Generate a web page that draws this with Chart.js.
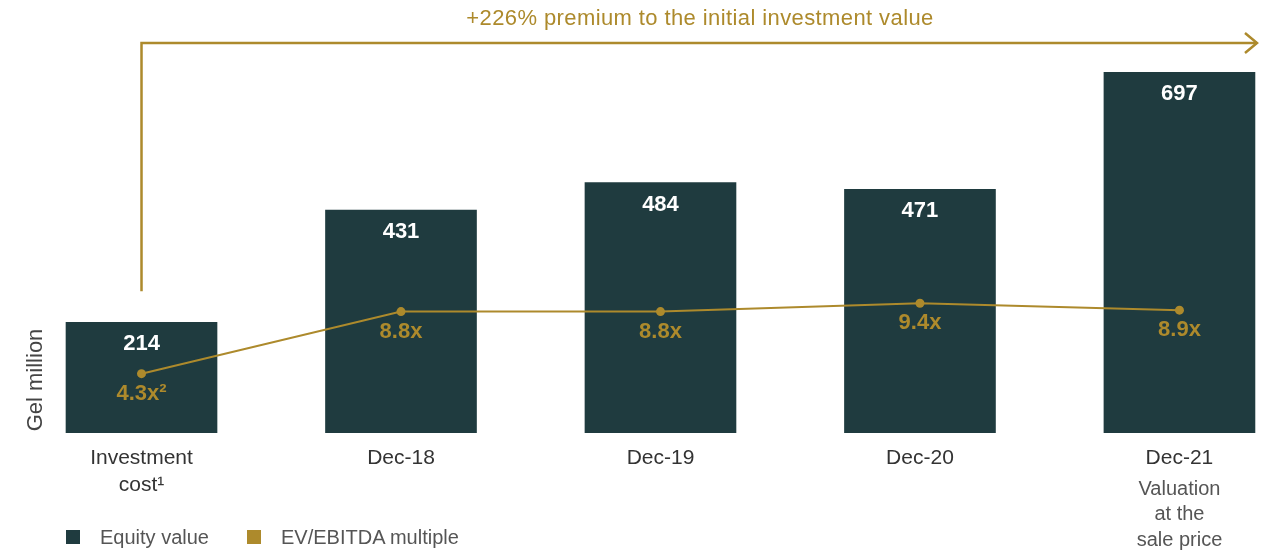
<!doctype html>
<html lang="en">
<head>
  <meta charset="utf-8">
  <title>Equity value and EV/EBITDA multiple</title>
  <style>
    * {
      margin: 0;
      padding: 0;
    }

    body {
      background: #fff;
      font-family: "Liberation Sans", Arial, sans-serif;
    }

    .chart-container {
      position: absolute;
      left: 0;
      top: 0;
      width: 1281px;
      height: 554px;
    }

    .legend-item {
      position: absolute;
      top: 525px;
      font-size: 20px;
      line-height: 24px;
      color: #555;
    }

    .legend-item .box {
      position: absolute;
      left: 0;
      top: 5px;
      width: 14px;
      height: 14px;
    }

    .legend-item span {
      position: absolute;
      left: 34px;
      white-space: nowrap;
    }
  </style>
</head>
<body>
  <div class="chart-container">
    <canvas id="myChart"></canvas>
  </div>
  <div class="legend-item" style="left:66px">
    <div class="box" style="background:#1f3b3f"></div><span>Equity value</span>
  </div>
  <div class="legend-item" style="left:247px">
    <div class="box" style="background:#ad8a2c"></div><span>EV/EBITDA multiple</span>
  </div>

  <script src="https://cdn.jsdelivr.net/npm/chart.js"></script>
  <script>
    const categories = [['Investment', 'cost\u00b9'], 'Dec-18', 'Dec-19', 'Dec-20', 'Dec-21'];
    const equityValue = [214, 431, 484, 471, 697];
    const evEbitda = [4.3, 8.8, 8.8, 9.4, 8.9];
    const multipleLabels = ['4.3x\u00b2', '8.8x', '8.8x', '9.4x', '8.9x'];
    const lastNote = ['Valuation', 'at the', 'sale price'];
    const premiumText = '+226% premium to the initial investment value';
    const axisTitle = 'Gel million';

    const navy = '#1f3b3f';
    const gold = '#ad8a2c';
    const fontFamily = '"Liberation Sans", Arial, sans-serif';

    // labels, arrow and notes drawn on top of the chart
    const overlay = {
      id: 'overlay',
      afterDatasetsDraw(chart) {
        const ctx = chart.ctx;
        const bars = chart.getDatasetMeta(1).data;
        const points = chart.getDatasetMeta(0).data;
        ctx.save();
        ctx.textAlign = 'center';
        ctx.textBaseline = 'middle';

        ctx.font = 'bold 22px ' + fontFamily;
        ctx.fillStyle = '#fff';
        bars.forEach((b, i) => ctx.fillText(equityValue[i], b.x, b.y + 22));

        ctx.fillStyle = gold;
        points.forEach((p, i) => ctx.fillText(multipleLabels[i], p.x, p.y + 20));

        // premium arrow
        const x0 = bars[0].x;
        const yStart = bars[0].y - 31;
        const yTop = 43;
        const xEnd = 1257;
        ctx.strokeStyle = gold;
        ctx.lineWidth = 2.5;
        ctx.beginPath();
        ctx.moveTo(x0, yStart);
        ctx.lineTo(x0, yTop);
        ctx.lineTo(xEnd, yTop);
        ctx.stroke();
        ctx.beginPath();
        ctx.moveTo(xEnd - 12, yTop - 10);
        ctx.lineTo(xEnd, yTop);
        ctx.lineTo(xEnd - 12, yTop + 10);
        ctx.stroke();

        ctx.font = '22px ' + fontFamily;
        ctx.letterSpacing = '0.4px';
        ctx.fillText(premiumText, 700, 19);
        ctx.letterSpacing = '0px';

        // note under the last category
        ctx.fillStyle = '#555';
        ctx.font = '20px ' + fontFamily;
        const lastX = bars[bars.length - 1].x;
        lastNote.forEach((t, i) => ctx.fillText(t, lastX, 489 + i * 25.5));

        // y axis title
        ctx.fillStyle = '#444';
        ctx.font = '22px ' + fontFamily;
        ctx.translate(36, 380);
        ctx.rotate(-Math.PI / 2);
        ctx.fillText(axisTitle, 0, 0);
        ctx.restore();
      }
    };

    const data = {
      datasets: [{
        type: 'line',
        label: 'EV/EBITDA multiple',
        data: evEbitda.map((v, i) => ({ x: i, y: v })),
        yAxisID: 'y1',
        borderColor: gold,
        backgroundColor: gold,
        borderWidth: 2,
        pointRadius: 4.5,
        pointBackgroundColor: gold,
        pointBorderWidth: 0,
        order: 1
      }, {
        type: 'bar',
        label: 'Equity value',
        data: equityValue.map((v, i) => ({ x: i, y: v })),
        yAxisID: 'y',
        backgroundColor: navy,
        borderWidth: 0,
        barThickness: 151,
        order: 2
      }]
    };

    const config = {
      data,
      plugins: [overlay],
      options: {
        responsive: true,
        maintainAspectRatio: false,
        animation: false,
        layout: {
          padding: { top: 19, left: 0, right: 0, bottom: 0 }
        },
        plugins: {
          legend: { display: false },
          tooltip: { enabled: false }
        },
        scales: {
          x: {
            type: 'linear',
            offset: false,
            min: -0.528,
            max: 4.374,
            grid: { display: false, drawTicks: false, offset: false },
            border: { display: false },
            afterBuildTicks: (scale) => {
              scale.ticks = categories.map((c, i) => ({ value: i }));
            },
            afterFit: (scale) => {
              scale.height = 121;
            },
            ticks: {
              autoSkip: false,
              maxRotation: 0,
              padding: 12,
              color: '#333',
              font: { family: fontFamily, size: 21, lineHeight: 1.28 },
              callback: (value, index) => categories[index]
            }
          },
          y: {
            display: false,
            min: 0,
            max: 800
          },
          y1: {
            display: false,
            min: 0,
            max: 30
          }
        }
      }
    };

    const myChart = new Chart(document.getElementById('myChart'), config);
  </script>
</body>
</html>
